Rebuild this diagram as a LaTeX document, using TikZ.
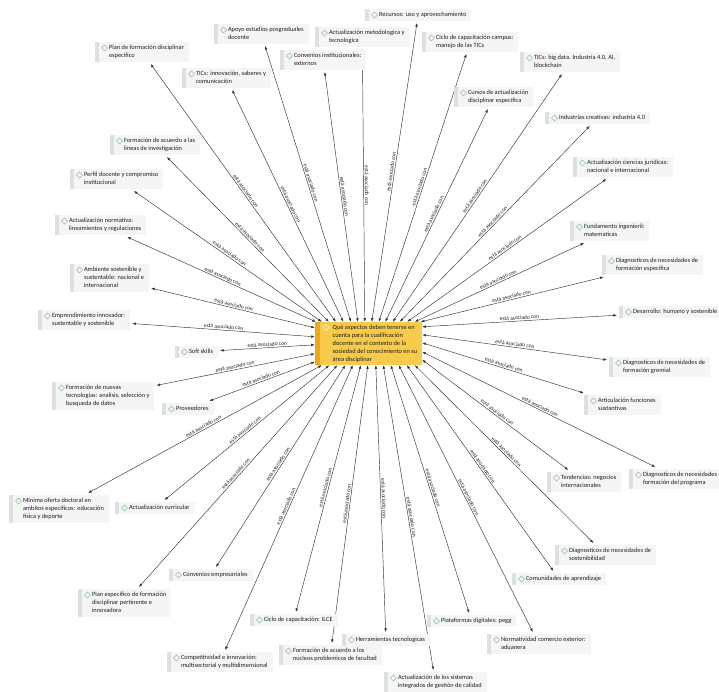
\documentclass[tikz,border=0pt]{standalone}
\usepackage{fontspec}
\setmainfont{Carlito}
\usetikzlibrary{arrows.meta,backgrounds}
\definecolor{leafbg}{HTML}{F5F5F5}
\definecolor{leafstripe}{HTML}{DFDFDF}
\definecolor{icongreen}{HTML}{8CC98A}
\definecolor{centerfill}{HTML}{F8CB4A}
\definecolor{centerstripe}{HTML}{EFA51C}
\definecolor{linecol}{HTML}{333333}
\definecolor{txtcol}{HTML}{1E1E1E}
\newcommand\myleaffont{\fontsize{6.4}{8}\selectfont}
\newcommand\mylblfont{\fontsize{5.5}{6}\selectfont}
\newcommand\leafbox[1]{\begin{tabular}{@{\hspace{14pt}}l@{\hspace{5pt}}}#1\end{tabular}}
\newcommand\centerbox[1]{\begin{tabular}{@{\hspace{17pt}}l@{\hspace{4pt}}}#1\end{tabular}}
\tikzset{
  leaf/.style={anchor=north west, fill=leafbg, inner xsep=0pt, inner ysep=2pt, outer sep=2pt,
    font=\myleaffont, text=txtcol,
    path picture={
      \fill[leafstripe] (path picture bounding box.north west) rectangle ([xshift=4pt]path picture bounding box.south west);
      \draw[icongreen, line width=0.55pt] ([xshift=9.5pt,yshift=-3pt]path picture bounding box.north west)
        -- ++(3pt,-3pt) -- ++(-3pt,-3pt) -- ++(-3pt,3pt) -- cycle;
    }},
  hub/.style={fill=centerfill, inner sep=0pt, minimum width=107pt, minimum height=43pt,
    font=\myleaffont, text=txtcol,
    path picture={
      \fill[centerstripe] (path picture bounding box.north west) rectangle ([xshift=5pt]path picture bounding box.south west);
      \draw[white, line width=0.6pt] ([xshift=11pt,yshift=-2.5pt]path picture bounding box.north west)
        -- ++(3pt,-3pt) -- ++(-3pt,-3pt) -- ++(-3pt,3pt) -- cycle;
    }},
  link/.style={draw=linecol, line width=0.45pt, {Latex[length=3.6pt,width=2.6pt]}-{Latex[length=3.6pt,width=2.6pt]}},
  lbl/.style={midway, sloped, above, font=\mylblfont, text=txtcol, inner sep=1.1pt},
}
\begin{document}
\begin{tikzpicture}[x=1pt,y=-1pt]
\useasboundingbox (0,0) rectangle (719,692);

\node[hub] (c) at (368.5,343.5) {\centerbox{Qué aspectos deben tenerse en\\cuenta para la cualificación\\docente en el contexto de la\\sociedad del conocimiento en su\\área disciplinar}};

% top
\node[leaf] (plandisc) at (93,40) {\leafbox{Plan de formación disciplinar\\específico}};
\node[leaf] (apoyo) at (212,22) {\leafbox{Apoyo estudios posgraduales\\docente}};
\node[leaf] (actmet) at (313,25) {\leafbox{Actualización metodologica y\\tecnologica}};
\node[leaf] (convinst) at (278,48) {\leafbox{Convenios institucionales:\\externos}};
\node[leaf] (ticsinn) at (180,66) {\leafbox{TICs: innovación, saberes y\\comunicación}};
\node[leaf] (recursos) at (363,7) {\leafbox{Recursos: uso y aprovechamiento}};
\node[leaf] (ciclocampus) at (420,30) {\leafbox{Ciclo de capacitación campus:\\manejo de las TICs}};
\node[leaf] (ticsbig) at (518,50) {\leafbox{TICs: big data. Industria 4.0, AI,\\blockchain}};
\node[leaf] (cursos) at (452,85) {\leafbox{Cursos de actualización\\disciplinar específica}};
\node[leaf] (industrias) at (543,110) {\leafbox{Industrias creativas: industria 4.0}};
\node[leaf] (actjur) at (571,155) {\leafbox{Actualización ciencias jurídicas:\\nacional e internacional}};
% left
\node[leaf] (formlineas) at (108,133) {\leafbox{Formación de acuerdo a las\\líneas de investigación}};
\node[leaf] (perfil) at (68,167) {\leafbox{Perfil docente y compromiso\\institucional}};
\node[leaf] (actnorm) at (53,213) {\leafbox{Actualización normativa:\\lineamientos y regulaciones}};
\node[leaf] (ambiente) at (68,262) {\leafbox{Ambiente sostenible y\\sustentable: nacional e\\internacional}};
\node[leaf] (emprend) at (36,308) {\leafbox{Emprendimiento innovador:\\sustentable y sostenible}};
\node[leaf] (soft) at (173,344) {\leafbox{Soft skills}};
\node[leaf] (formnuevas) at (50,380) {\leafbox{Formación de nuevas\\tecnologías: analisis, selección y\\busqueda de datos}};
\node[leaf] (proveedores) at (160,401) {\leafbox{Proveedores}};
% bottom
\node[leaf] (minima) at (7,493) {\leafbox{Mínima oferta doctoral en\\ambitos específicos: educación\\física y deporte}};
\node[leaf] (actcurr) at (113,500) {\leafbox{Actualización curricular}};
\node[leaf] (convemp) at (167,567) {\leafbox{Convenios empresariales}};
\node[leaf] (planesp) at (76,587) {\leafbox{Plan específico de formación\\disciplinar pertinente e\\innovadora}};
\node[leaf] (cicloilce) at (248,612) {\leafbox{Ciclo de capacitación: ILCE}};
\node[leaf] (compet) at (165,650) {\leafbox{Competitividad e innovación:\\multisectorial y multidimensional}};
\node[leaf] (formnucleos) at (277,643) {\leafbox{Formación de acuerdo a los\\nucleos problemicos de facultad}};
\node[leaf] (herram) at (340,632) {\leafbox{Herramientas tecnologicas}};
\node[leaf] (actsist) at (382,670) {\leafbox{Actualización de los sistemas\\integrados de gestión de calidad}};
\node[leaf] (plataformas) at (425,613) {\leafbox{Plataformas digitales: pegg}};
\node[leaf] (normat) at (485,632) {\leafbox{Normatividad comercio exterior:\\aduanera}};
\node[leaf] (comunidades) at (510,571) {\leafbox{Comunidades de aprendizaje}};
\node[leaf] (diagsost) at (553,543) {\leafbox{Diagnosticos de necesidades de\\sostenibilidad}};
% right
\node[leaf] (tendencias) at (545,470) {\leafbox{Tendencias: negocios\\internacionales}};
\node[leaf] (diagprog) at (627,467) {\leafbox{Diagnosticos de necesidades de\\formación del programa}};
\node[leaf] (articulacion) at (582,393) {\leafbox{Articulación funciones\\sustantivas}};
\node[leaf] (diaggrem) at (607,355) {\leafbox{Diagnosticos de necesidades de\\formación gremial}};
\node[leaf] (desarrollo) at (617,304) {\leafbox{Desarrollo: humano y sostenible}};
\node[leaf] (diagesp) at (600,253) {\leafbox{Diagnosticos de necesidades de\\formación específica}};
\node[leaf] (fundamento) at (568,219) {\leafbox{Fundamento ingenieril:\\matematicas}};

\begin{scope}[on background layer]
\fill[white] (0,0) rectangle (719,692);
% top edge
\draw[link] ([xshift=1pt]c.north west) -- (actnorm) node[lbl]{está asociado con};
\draw[link] ([xshift=7pt]c.north west) -- (perfil) node[lbl]{está asociado con};
\draw[link] ([xshift=14pt]c.north west) -- (formlineas) node[lbl]{está asociado con};
\draw[link] ([xshift=21pt]c.north west) -- (plandisc) node[lbl]{está asociado con};
\draw[link] ([xshift=28.5pt]c.north west) -- (ticsinn) node[lbl]{está asociado con};
\draw[link] ([xshift=36pt]c.north west) -- (apoyo) node[lbl]{está asociado con};
\draw[link] ([xshift=43pt]c.north west) -- (convinst) node[lbl]{está asociado con};
\draw[link] ([xshift=50pt]c.north west) -- (actmet) node[lbl]{está asociado con};
\draw[link] ([xshift=57pt]c.north west) -- (recursos) node[lbl]{está asociado con};
\draw[link] ([xshift=64pt]c.north west) -- (ciclocampus) node[lbl]{está asociado con};
\draw[link] ([xshift=70.5pt]c.north west) -- (cursos) node[lbl]{está asociado con};
\draw[link] ([xshift=78pt]c.north west) -- (ticsbig) node[lbl]{está asociado con};
\draw[link] ([xshift=85pt]c.north west) -- (industrias) node[lbl]{está asociado con};
\draw[link] ([xshift=92.5pt]c.north west) -- (actjur) node[lbl]{está asociado con};
\draw[link] ([xshift=100pt]c.north west) -- (fundamento) node[lbl]{está asociado con};
\draw[link] ([xshift=106pt]c.north west) -- (diagesp) node[lbl]{está asociado con};
% right edge
\draw[link] ([yshift=-5pt]c.north east) -- (desarrollo) node[lbl]{está asociado con};
\draw[link] ([yshift=-13pt]c.north east) -- (diaggrem) node[lbl]{está asociado con};
\draw[link] ([yshift=-21pt]c.north east) -- (articulacion) node[lbl]{está asociado con};
\draw[link] ([yshift=-30pt]c.north east) -- (diagprog) node[lbl]{está asociado con};
\draw[link] ([yshift=-38pt]c.north east) -- (tendencias) node[lbl]{está asociado con};
% bottom edge
\draw[link] ([xshift=100pt]c.south west) -- (diagsost) node[lbl]{está asociado con};
\draw[link] ([xshift=92pt]c.south west) -- (comunidades) node[lbl]{está asociado con};
\draw[link] ([xshift=84pt]c.south west) -- (normat) node[lbl]{está asociado con};
\draw[link] ([xshift=76pt]c.south west) -- (plataformas) node[lbl]{está asociado con};
\draw[link] ([xshift=68.5pt]c.south west) -- (actsist) node[lbl]{está asociado con};
\draw[link] ([xshift=61pt]c.south west) -- (herram) node[lbl]{está asociado con};
\draw[link] ([xshift=53pt]c.south west) -- (formnucleos) node[lbl]{está asociado con};
\draw[link] ([xshift=46pt]c.south west) -- (cicloilce) node[lbl]{está asociado con};
\draw[link] ([xshift=38pt]c.south west) -- (compet) node[lbl]{está asociado con};
\draw[link] ([xshift=30.5pt]c.south west) -- (convemp) node[lbl]{está asociado con};
\draw[link] ([xshift=22.5pt]c.south west) -- (planesp) node[lbl]{está asociado con};
\draw[link] ([xshift=14.5pt]c.south west) -- (actcurr) node[lbl]{está asociado con};
\draw[link] ([xshift=7pt]c.south west) -- (minima) node[lbl]{está asociado con};
% left edge
\draw[link] ([yshift=-6pt]c.north west) -- (ambiente) node[lbl]{está asociado con};
\draw[link] ([yshift=-15pt]c.north west) -- (emprend) node[lbl]{está asociado con};
\draw[link] ([yshift=-23pt]c.north west) -- (soft) node[lbl]{está asociado con};
\draw[link] ([yshift=-32pt]c.north west) -- (formnuevas) node[lbl]{está asociado con};
\draw[link] ([yshift=-40pt]c.north west) -- (proveedores) node[lbl]{está asociado con};
\end{scope}
\end{tikzpicture}
\end{document}
